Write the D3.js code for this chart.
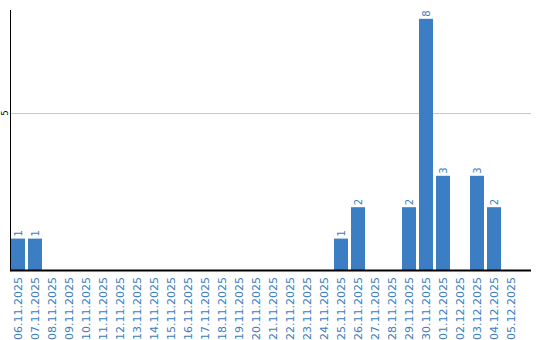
<!DOCTYPE html>
<html>
<head>
<meta charset="utf-8">
<script src="https://cdn.jsdelivr.net/npm/d3@7"></script>
<style>
  body { margin: 0; background: #fff; }
  svg { display: block; }
  text { font-family: "DejaVu Sans", Verdana, sans-serif; }
</style>
</head>
<body>
<div class="chart"></div>
<script>
// Dates and counts per day
var dates = ["06.11.2025", "07.11.2025", "08.11.2025", "09.11.2025", "10.11.2025",
  "11.11.2025", "12.11.2025", "13.11.2025", "14.11.2025", "15.11.2025",
  "16.11.2025", "17.11.2025", "18.11.2025", "19.11.2025", "20.11.2025",
  "21.11.2025", "22.11.2025", "23.11.2025", "24.11.2025", "25.11.2025",
  "26.11.2025", "27.11.2025", "28.11.2025", "29.11.2025", "30.11.2025",
  "01.12.2025", "02.12.2025", "03.12.2025", "04.12.2025", "05.12.2025"];
var counts = [1, 1, 0, 0, 0, 0, 0, 0, 0, 0,
  0, 0, 0, 0, 0, 0, 0, 0, 0, 1,
  2, 0, 0, 2, 8, 3, 0, 3, 2, 0];
var yTicks = [5];

var width = 540, height = 340;
var plotLeft = 11, plotRight = 531, plotTop = 10, plotBase = 270;
var barColor = "#3b7ec4", labelColor = "#3a7dc0";

var svg = d3.select(".chart")
  .append("svg")
    .attr("width", width)
    .attr("height", height);

// Scales
var x = d3.scaleBand()
  .domain(dates)
  .range([plotLeft, plotLeft + 30 * 17 - 3])
  .paddingInner(3 / 17)
  .paddingOuter(0);

var y = d3.scaleLinear()
  .domain([0, 8.28])
  .range([plotBase, plotTop]);

// Gridlines
svg.append("g")
  .selectAll("line")
  .data(yTicks)
  .enter()
  .append("line")
    .attr("x1", plotLeft)
    .attr("x2", plotRight)
    .attr("y1", function(d) { return Math.round(y(d)) + 0.5; })
    .attr("y2", function(d) { return Math.round(y(d)) + 0.5; })
    .style("stroke", "#c8c8c8")
    .style("stroke-width", 1);

// Y tick labels (rotated)
svg.append("g")
  .selectAll("text")
  .data(yTicks)
  .enter()
  .append("text")
    .attr("transform", function(d) { return "translate(8," + y(d) + ") rotate(-90)"; })
    .attr("text-anchor", "middle")
    .style("font-size", "8px")
    .style("fill", "#000")
    .text(function(d) { return d; });

// Bars
svg.append("g")
  .selectAll("rect")
  .data(counts)
  .enter()
  .append("rect")
    .attr("x", function(d, i) { return x(dates[i]); })
    .attr("y", function(d) { return y(d); })
    .attr("width", x.bandwidth())
    .attr("height", function(d) { return plotBase - y(d); })
    .style("fill", barColor);

// Value labels above bars
var labelled = counts
  .map(function(d, i) { return { v: d, date: dates[i] }; })
  .filter(function(d) { return d.v > 0; });

svg.append("g")
  .selectAll("text")
  .data(labelled)
  .enter()
  .append("text")
    .attr("transform", function(d) {
      return "translate(" + (x(d.date) + x.bandwidth() / 2 + 3.5) + "," + (y(d.v) - 2) + ") rotate(-90)";
    })
    .attr("text-anchor", "start")
    .style("font-size", "10px")
    .style("fill", labelColor)
    .text(function(d) { return d.v; });

// Axis lines
svg.append("line")
  .attr("x1", plotLeft - 0.5).attr("x2", plotLeft - 0.5)
  .attr("y1", plotTop).attr("y2", plotBase + 1)
  .style("stroke", "#000").style("stroke-width", 1);

svg.append("line")
  .attr("x1", plotLeft - 1).attr("x2", plotRight)
  .attr("y1", plotBase + 0.5).attr("y2", plotBase + 0.5)
  .style("stroke", "#000").style("stroke-width", 2);

// Date labels
svg.append("g")
  .selectAll("text")
  .data(dates)
  .enter()
  .append("text")
    .attr("transform", function(d) {
      return "translate(" + (x(d) + x.bandwidth() / 2 + 4) + "," + (plotBase + 7) + ") rotate(-90)";
    })
    .attr("text-anchor", "end")
    .style("font-size", "11px")
    .style("fill", labelColor)
    .text(function(d) { return d; });
</script>
</body>
</html>
